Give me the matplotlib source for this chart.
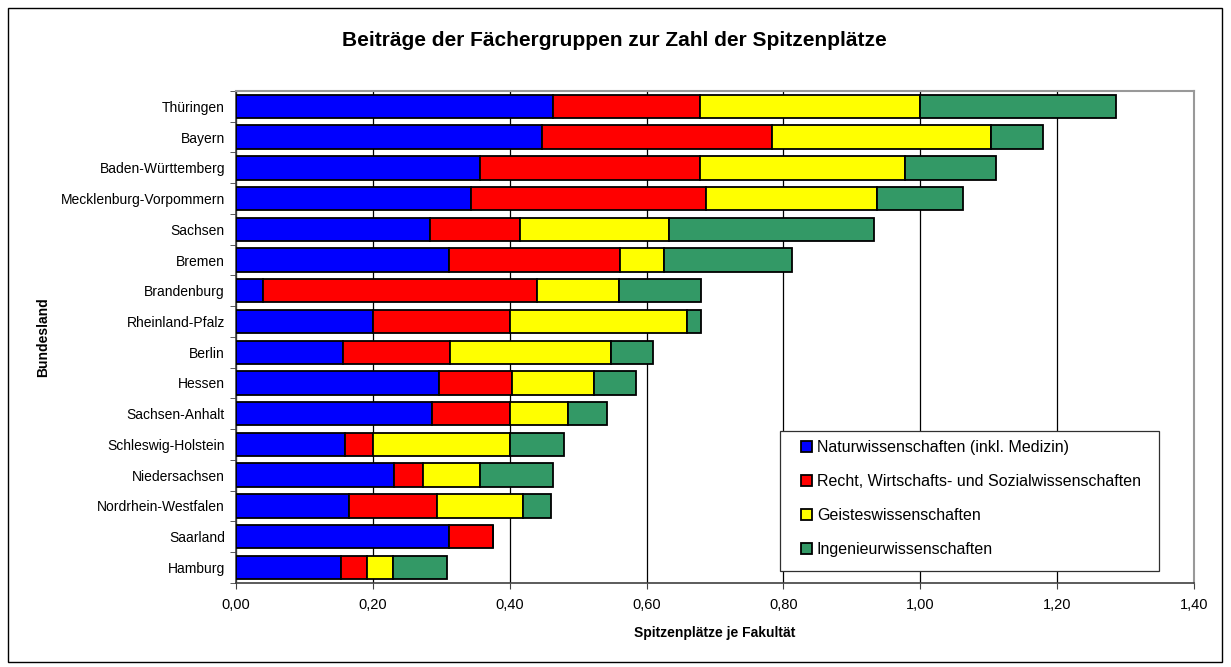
import matplotlib
matplotlib.use("Agg")
import matplotlib.pyplot as plt
from matplotlib.patches import Rectangle
from matplotlib.ticker import FuncFormatter, MultipleLocator, FixedLocator
import numpy as np

plt.rcParams['font.family'] = ['Liberation Sans', 'DejaVu Sans']

laender = ["Thüringen", "Bayern", "Baden-Württemberg", "Mecklenburg-Vorpommern",
           "Sachsen", "Bremen", "Brandenburg", "Rheinland-Pfalz", "Berlin", "Hessen",
           "Sachsen-Anhalt", "Schleswig-Holstein", "Niedersachsen",
           "Nordrhein-Westfalen", "Saarland", "Hamburg"]

natur = [0.463, 0.447, 0.357, 0.343, 0.283, 0.311, 0.039, 0.200, 0.156, 0.297,
         0.286, 0.159, 0.231, 0.165, 0.311, 0.153]
recht = [0.215, 0.336, 0.321, 0.344, 0.132, 0.250, 0.401, 0.200, 0.157, 0.107,
         0.114, 0.041, 0.042, 0.129, 0.064, 0.039]
geistes = [0.322, 0.321, 0.300, 0.250, 0.218, 0.064, 0.120, 0.259, 0.235, 0.119,
           0.085, 0.200, 0.084, 0.126, 0.000, 0.038]
ingenieur = [0.286, 0.075, 0.132, 0.126, 0.300, 0.187, 0.120, 0.021, 0.061, 0.061,
             0.057, 0.080, 0.106, 0.040, 0.000, 0.078]

serien = [
    ("Naturwissenschaften (inkl. Medizin)", natur, "#0000FF"),
    ("Recht, Wirtschafts- und Sozialwissenschaften", recht, "#FF0000"),
    ("Geisteswissenschaften", geistes, "#FFFF00"),
    ("Ingenieurwissenschaften", ingenieur, "#339966"),
]

W, H = 1231, 667
AX_L, AX_R, AX_T, AX_B = 236, 1194, 91, 582.7
fig = plt.figure(figsize=(W / 100, H / 100), dpi=100)
ax = fig.add_axes([AX_L / W, 1 - AX_B / H, (AX_R - AX_L) / W, (AX_B - AX_T) / H])

def ax_x(px):
    return (px - AX_L) / (AX_R - AX_L)

def ax_y(py):
    return (AX_B - py) / (AX_B - AX_T)

y = np.arange(len(laender))[::-1]
left = np.zeros(len(laender))
for name, vals, col in serien:
    vals = np.array(vals)
    ax.barh(y, vals, left=left, height=0.76, color=col, edgecolor="black",
            linewidth=1.3, label=name, zorder=3)
    left += vals

ax.set_xlim(0, 1.4)
ax.set_ylim(-0.5, len(laender) - 0.5)
ax.xaxis.set_major_locator(MultipleLocator(0.2))
ax.xaxis.set_major_formatter(FuncFormatter(lambda v, p: f"{v:.2f}".replace(".", ",")))
ax.set_yticks(y)
ax.set_yticklabels(laender)
ax.yaxis.set_minor_locator(FixedLocator(np.arange(-0.5, len(laender), 1.0)))
ax.tick_params(axis="y", which="major", length=0, pad=8, labelsize=10)
ax.tick_params(axis="y", which="minor", length=4, direction="out", color="#404040")
ax.tick_params(axis="x", which="major", length=4, direction="out", labelsize=10.5,
               pad=7, color="#404040")
ax.grid(axis="x", color="black", linewidth=0.9, zorder=0)

for s in ["top", "right"]:
    ax.spines[s].set_color("#999999")
    ax.spines[s].set_linewidth(1.5)
for s in ["left", "bottom"]:
    ax.spines[s].set_color("#404040")
    ax.spines[s].set_linewidth(1.2)

ax.set_xlabel("Spitzenplätze je Fakultät", fontsize=10, fontweight="bold", labelpad=10)
ax.set_ylabel("Bundesland", fontsize=10, fontweight="bold", labelpad=7.5)

fig.text(614 / W, 1 - 40 / H,
         "Beiträge der Fächergruppen zur Zahl der Spitzenplätze",
         ha="center", va="center", fontsize=15, fontweight="bold")

# legend frame
ax.add_patch(Rectangle((ax_x(780), ax_y(571)), ax_x(1159) - ax_x(780),
                       ax_y(431) - ax_y(571), transform=ax.transAxes,
                       facecolor="white", edgecolor="#303030", linewidth=0.9,
                       zorder=4, clip_on=False))
leg = ax.legend(loc="upper left", bbox_to_anchor=(ax_x(800.5), ax_y(440)),
                frameon=False, fontsize=11.5,
                handlelength=0.73, handleheight=0.7, handletextpad=0.3,
                labelspacing=1.19, borderpad=0, borderaxespad=0)
leg.set_zorder(5)

fig.patches.append(Rectangle((8 / W, 5 / H), (1222 - 8) / W, (662 - 8) / H,
                             transform=fig.transFigure, fill=False,
                             edgecolor="black", linewidth=1.0))

fig.savefig("out.png", dpi=100)
